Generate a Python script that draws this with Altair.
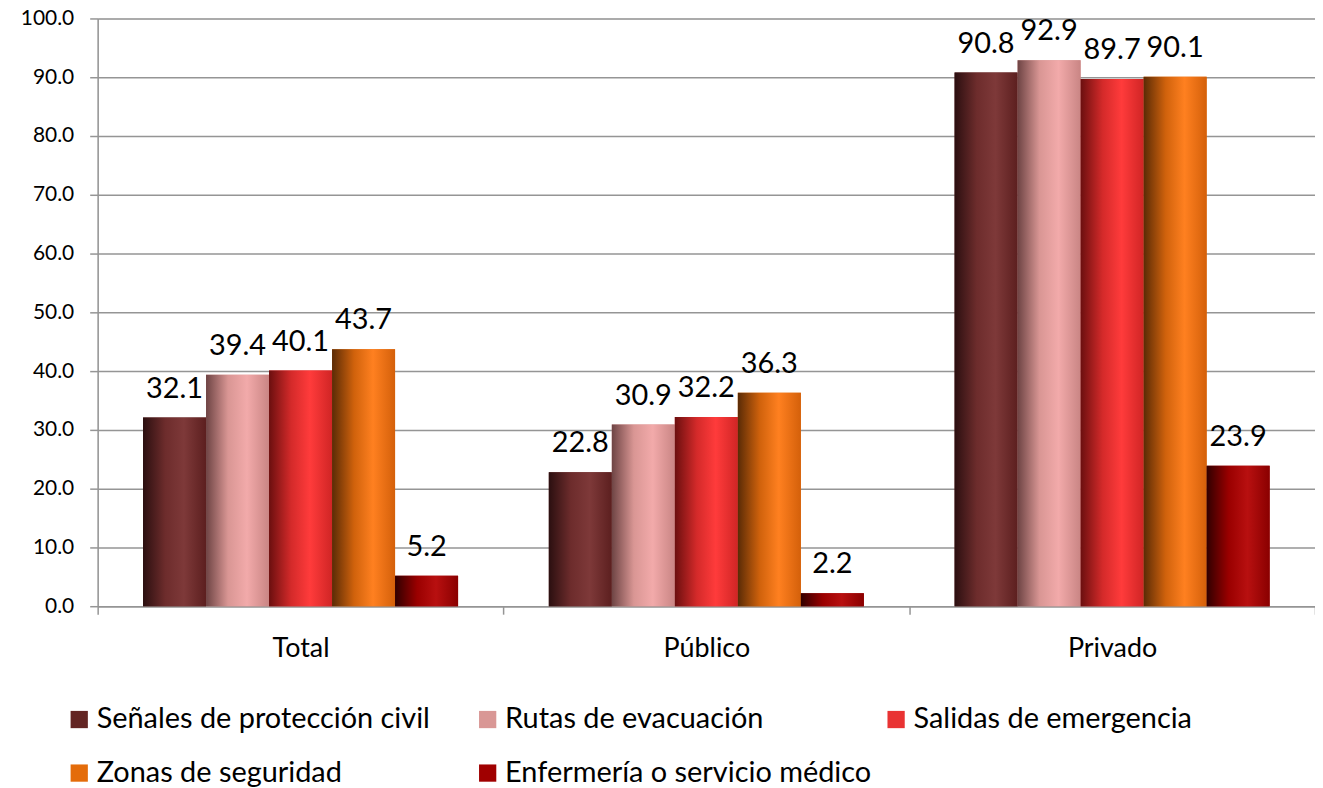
import altair as alt
import pandas as pd

categories = ["Total", "Público", "Privado"]
series = [
    "Señales de protección civil",
    "Rutas de evacuación",
    "Salidas de emergencia",
    "Zonas de seguridad",
    "Enfermería o servicio médico",
]
senales = [32.1, 22.8, 90.8]
rutas = [39.4, 30.9, 92.9]
salidas = [40.1, 32.2, 89.7]
zonas = [43.7, 36.3, 90.1]
enfermeria = [5.2, 2.2, 23.9]

flat_colors = ["#632523", "#D99795", "#E93333", "#E46C0A", "#A00000"]
gradient_stops = [
    ["#2b0f10", "#6d2c2c", "#7e3939", "#5c1f1f"],
    ["#6e4444", "#d99694", "#f2aaaa", "#c98584"],
    ["#6b0f0f", "#d42a2a", "#ff3b3b", "#d02525"],
    ["#5a2b06", "#d0620c", "#ff8020", "#d4600a"],
    ["#300000", "#9a0000", "#b81010", "#8a0000"],
]
stop_offsets = [0.0, 0.35, 0.65, 1.0]

rows = []
for s, vals in zip(series, [senales, rutas, salidas, zonas, enfermeria]):
    for c, v in zip(categories, vals):
        rows.append({"categoria": c, "serie": s, "valor": v})
df = pd.DataFrame(rows)

FONT = "Lato"
GRAY = "#959595"

x_enc = alt.X("categoria:N", sort=categories, title=None,
              scale=alt.Scale(paddingInner=0, paddingOuter=0),
              axis=alt.Axis(labelAngle=0, labelFontSize=27, labelColor="black",
                            labelFont=FONT, tickBand="extent", tickSize=8,
                            tickColor=GRAY, tickWidth=1.5, domainColor=GRAY,
                            domainWidth=1.5, labelPadding=21, grid=False))
xoff_enc = alt.XOffset("serie:N", sort=series,
                       scale=alt.Scale(domain=series, paddingInner=0, paddingOuter=0.72))
y_enc = alt.Y("valor:Q", title=None,
              scale=alt.Scale(domain=[0, 100], nice=False),
              axis=alt.Axis(values=list(range(0, 101, 10)), format=".1f",
                            labelFontSize=21, labelFont=FONT, labelColor="black",
                            tickSize=8, tickColor=GRAY, tickWidth=1.5,
                            domainColor=GRAY, domainWidth=1.5, gridColor=GRAY,
                            gridWidth=1.5, labelPadding=16))

base = alt.Chart(df).mark_bar().encode(
    x=x_enc, xOffset=xoff_enc, y=y_enc,
    color=alt.Color("serie:N", sort=series,
                    scale=alt.Scale(domain=series, range=flat_colors),
                    legend=alt.Legend(title=None, orient="none", legendX=-33, legendY=689,
                                      direction="horizontal", columns=3,
                                      gridAlign="all",
                                      symbolType="square", symbolSize=300,
                                      symbolStrokeWidth=0, labelFontSize=29,
                                      labelFont=FONT, labelColor="black",
                                      labelLimit=600, columnPadding=10,
                                      rowPadding=24, labelOffset=3)),
)

layers = [base]
for s, stops in zip(series, gradient_stops):
    grad = alt.Gradient(
        gradient="linear",
        stops=[alt.GradientStop(color=c, offset=o) for c, o in zip(stops, stop_offsets)],
        x1=0, x2=1, y1=0, y2=0,
    )
    layers.append(
        alt.Chart(df).transform_filter(alt.datum.serie == s)
        .mark_bar(color=grad)
        .encode(x=x_enc, xOffset=xoff_enc, y=y_enc)
    )

labels = alt.Chart(df).mark_text(
    baseline="alphabetic", dy=-20, fontSize=29, font=FONT, color="black"
).encode(x=x_enc, xOffset=xoff_enc, y=y_enc,
         text=alt.Text("valor:Q", format=".1f"))
layers.append(labels)

chart = alt.layer(*layers).properties(
    width=1222, height=590,
    autosize=alt.AutoSizeParams(type="none"),
    padding={"left": 90, "top": 9, "right": 0, "bottom": 186},
).configure_view(strokeWidth=0).configure(background="white")

chart.save("out.html", embed_options={"renderer": "svg", "actions": False})
